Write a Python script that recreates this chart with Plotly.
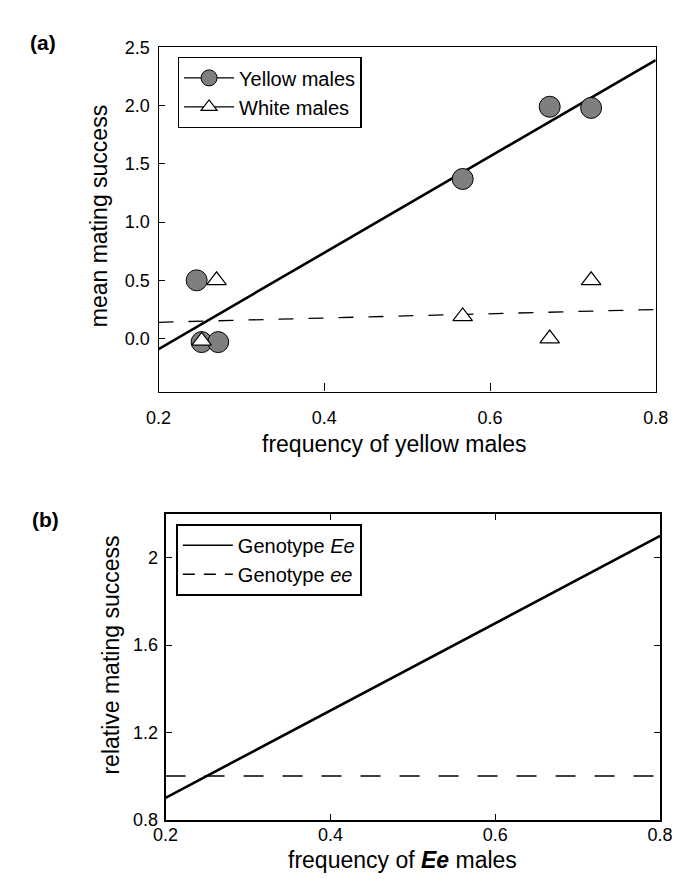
import plotly.graph_objects as go

# ---- Panel (a) data ----
freq_yellow = [0.246, 0.252, 0.272, 0.567, 0.672, 0.722]
succ_yellow = [0.50, -0.03, -0.03, 1.37, 1.99, 1.98]
freq_white = [0.252, 0.270, 0.567, 0.672, 0.722]
succ_white = [-0.02, 0.50, 0.19, 0.00, 0.50]
fit_x = [0.2, 0.8]
fit_yellow = [-0.09, 2.39]
fit_white = [0.14, 0.25]

# ---- Panel (b) data ----
freq_Ee = [0.2, 0.8]
rel_Ee = [0.9, 2.1]
rel_ee = [1.0, 1.0]

W, H = 680, 879
FONT = "Liberation Sans, Arial, Helvetica, sans-serif"

fig = go.Figure()

# panel (a) fitted lines
fig.add_trace(go.Scatter(x=fit_x, y=fit_yellow, mode="lines", line=dict(color="black", width=2.6),
                         showlegend=False, xaxis="x", yaxis="y"))
fig.add_trace(go.Scatter(x=fit_x, y=fit_white, mode="lines",
                         line=dict(color="black", width=1.3, dash="15px,15px"),
                         showlegend=False, xaxis="x", yaxis="y"))
# panel (a) points
fig.add_trace(go.Scatter(x=freq_yellow, y=succ_yellow, mode="markers",
                         marker=dict(symbol="circle", size=21, color="#7f7f7f",
                                     line=dict(color="black", width=1)),
                         showlegend=False, xaxis="x", yaxis="y"))
fig.add_trace(go.Scatter(x=freq_white, y=succ_white, mode="markers",
                         marker=dict(symbol="triangle-up", size=17, color="white",
                                     line=dict(color="black", width=1.2)),
                         showlegend=False, xaxis="x", yaxis="y"))
# legend entries (a)
fig.add_trace(go.Scatter(x=[None], y=[None], mode="lines+markers", name="Yellow males",
                         line=dict(color="black", width=1.2),
                         marker=dict(symbol="circle", size=16, color="#7f7f7f",
                                     line=dict(color="black", width=1)),
                         legend="legend", xaxis="x", yaxis="y"))
fig.add_trace(go.Scatter(x=[None], y=[None], mode="lines+markers", name="White males",
                         line=dict(color="black", width=1.2),
                         marker=dict(symbol="triangle-up", size=14, color="white",
                                     line=dict(color="black", width=1.2)),
                         legend="legend", xaxis="x", yaxis="y"))

# panel (b)
fig.add_trace(go.Scatter(x=freq_Ee, y=rel_Ee, mode="lines", line=dict(color="black", width=2.6),
                         showlegend=False, xaxis="x2", yaxis="y2"))
fig.add_trace(go.Scatter(x=freq_Ee, y=rel_ee, mode="lines",
                         line=dict(color="black", width=1.3, dash="20px,19px"),
                         showlegend=False, xaxis="x2", yaxis="y2"))
# legend entries (b)
fig.add_trace(go.Scatter(x=[None], y=[None], mode="lines", name="Genotype <i>Ee</i>",
                         line=dict(color="black", width=1.5),
                         legend="legend2", xaxis="x2", yaxis="y2"))
fig.add_trace(go.Scatter(x=[None], y=[None], mode="lines", name="Genotype <i>ee</i>",
                         line=dict(color="black", width=1.3, dash="12px,9px"),
                         legend="legend2", xaxis="x2", yaxis="y2"))

axis_common = dict(showgrid=False, zeroline=False, showline=True, linecolor="black",
                   ticks="inside", tickcolor="black",
                   tickfont=dict(family=FONT, size=18, color="black"))

fig.update_layout(
    width=W, height=H,
    margin=dict(l=0, r=0, t=0, b=0),
    paper_bgcolor="white", plot_bgcolor="white",
    font=dict(family=FONT, color="black"),
    xaxis=dict(axis_common, domain=[143.0 / W, 660.0 / W], range=[0.2, 0.8],
               tickvals=[0.2, 0.4, 0.6, 0.8], ticktext=["0.2", "0.4", "0.6", "0.8"],
               ticklen=8, linewidth=1.3, mirror=True, anchor="y", ticklabelstandoff=10),
    yaxis=dict(axis_common, domain=[1 - 382.3 / H, 1 - 30 / H], range=[-0.455, 2.5],
               tickvals=[0, 0.5, 1.0, 1.5, 2.0, 2.5],
               ticktext=["0.0", "0.5", "1.0", "1.5", "2.0", "2.5"],
               ticklen=6, linewidth=1.3, mirror=True, anchor="x", ticklabelstandoff=4),
    xaxis2=dict(axis_common, domain=[150.3 / W, 664.5 / W], range=[0.2, 0.8],
                tickvals=[0.2, 0.4, 0.6, 0.8], ticktext=["0.2", "0.4", "0.6", "0.8"],
                ticklen=6, linewidth=2, mirror="ticks", anchor="y2", ticklabelstandoff=-2),
    yaxis2=dict(axis_common, domain=[1 - 820.3 / H, 1 - 507.7 / H], range=[0.8, 2.2],
                tickvals=[0.8, 1.2, 1.6, 2.0], ticktext=["0.8", "1.2", "1.6", "2"],
                ticklen=6, linewidth=2, mirror="ticks", anchor="x2", ticklabelstandoff=2),
    legend=dict(x=163 / W, y=1 - 40 / H, xanchor="left", yanchor="top",
                bgcolor="white", bordercolor="black", borderwidth=1.3,
                font=dict(family=FONT, size=20, color="black"), itemwidth=50,
                tracegroupgap=0),
    legend2=dict(x=161 / W, y=1 - 517.5 / H, xanchor="left", yanchor="top",
                 bgcolor="white", bordercolor="black", borderwidth=2,
                 font=dict(family=FONT, size=20, color="black"), itemwidth=50),
)

annotations = [
    dict(text="<b>(a)</b>", x=23 / W, y=1 - 25 / H, font=dict(size=21)),
    dict(text="<b>(b)</b>", x=25 / W, y=1 - 513 / H, font=dict(size=21)),
    dict(text="frequency of yellow males", x=388 / W, y=1 - 436 / H, font=dict(size=23)),
    dict(text="frequency of <b><i>Ee</i></b> males", x=397 / W, y=1 - 862 / H, font=dict(size=23)),
    dict(text="mean mating success", x=81 / W, y=1 - 203 / H, font=dict(size=23), textangle=-90),
    dict(text="relative mating success", x=94 / W, y=1 - 652 / H, font=dict(size=23), textangle=-90),
]
for a in annotations:
    a.update(xref="paper", yref="paper", xanchor="center", yanchor="middle", showarrow=False)
    a["font"] = dict(family=FONT, color="black", **a["font"])
fig.update_layout(annotations=annotations)

fig.write_html("out.html")
